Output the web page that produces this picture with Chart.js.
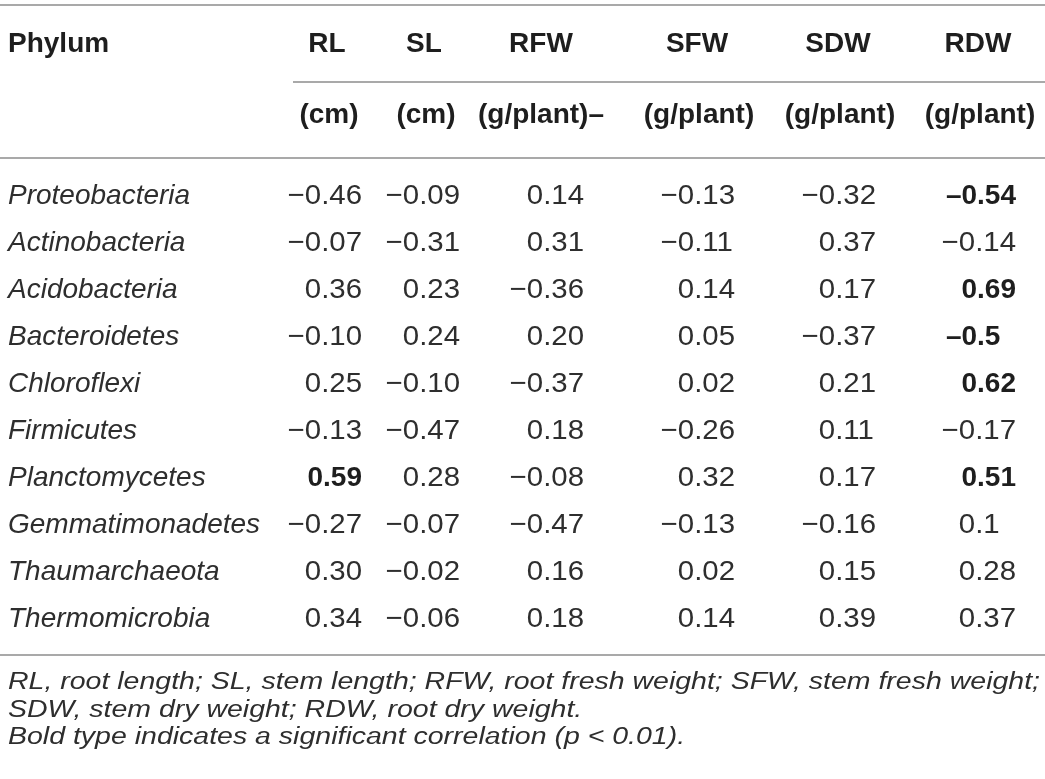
<!DOCTYPE html>
<html>
<head>
<meta charset="utf-8">
<title>Phylum vs. plant growth correlation table</title>
<script src="https://cdn.jsdelivr.net/npm/chart.js@4.4.0/dist/chart.umd.min.js"></script>
<style>
  html, body { margin: 0; padding: 0; background: #fff; }
  #wrap { width: 1045px; height: 779px; position: relative; }
</style>
</head>
<body>
<div id="wrap"><canvas id="table"></canvas></div>
<script>
// ---- table content ----
const phyla = [
  'Proteobacteria', 'Actinobacteria', 'Acidobacteria', 'Bacteroidetes', 'Chloroflexi',
  'Firmicutes', 'Planctomycetes', 'Gemmatimonadetes', 'Thaumarchaeota', 'Thermomicrobia'
];
const columns = ['RL', 'SL', 'RFW', 'SFW', 'SDW', 'RDW'];
const units = ['(cm)', '(cm)', '(g/plant)–', '(g/plant)', '(g/plant)', '(g/plant)'];

// values as printed (strings keep the printed number of decimals)
const rl  = ['-0.46', '-0.07', '0.36', '-0.10', '0.25', '-0.13', '0.59', '-0.27', '0.30', '0.34'];
const sl  = ['-0.09', '-0.31', '0.23', '0.24', '-0.10', '-0.47', '0.28', '-0.07', '-0.02', '-0.06'];
const rfw = ['0.14', '0.31', '-0.36', '0.20', '-0.37', '0.18', '-0.08', '-0.47', '0.16', '0.18'];
const sfw = ['-0.13', '-0.11', '0.14', '0.05', '0.02', '-0.26', '0.32', '-0.13', '0.02', '0.14'];
const sdw = ['-0.32', '0.37', '0.17', '-0.37', '0.21', '0.11', '0.17', '-0.16', '0.15', '0.39'];
const rdw = ['-0.54', '-0.14', '0.69', '-0.5', '0.62', '-0.17', '0.51', '0.1', '0.28', '0.37'];

// rows printed in bold (significant, p < 0.01)
const rlSignificant = [6];
const rdwSignificant = [0, 2, 3, 4, 6];

const footnotes = [
  'RL, root length; SL, stem length; RFW, root fresh weight; SFW, stem fresh weight;',
  'SDW, stem dry weight; RDW, root dry weight.',
  'Bold type indicates a significant correlation (p < 0.01).'
];

// ---- layout (pixels) ----
const W = 1045;
const H = 779;
const COL_RIGHT = [362, 460, 584, 735, 876, 1016];   // right edge of a two-decimal value
const COL_CENTER = [327, 424, 541, 697, 838, 978];   // header centres
const ROW_TOP = 170;                                  // top of first body row
const ROW_H = 47.1;
const FONT = '"Liberation Sans", Arial, Helvetica, sans-serif';
const SX = 1.05;                                      // slight widening for the numbers

const columnValues = [rl, sl, rfw, sfw, sdw, rdw];
const columnBold = [rlSignificant, [], [], [], [], rdwSignificant];

const datasets = columns.map((name, c) => ({
  label: name,
  data: columnValues[c].map((v, r) => ({
    x: COL_RIGHT[c],
    y: r,
    text: v,
    bold: columnBold[c].includes(r)
  })),
  pointRadius: 0,
  pointHoverRadius: 0,
  showLine: false
}));

function drawText(ctx, str, x, y, align, sx) {
  ctx.save();
  ctx.translate(x, y);
  ctx.scale(sx, 1);
  ctx.textAlign = align;
  ctx.fillText(str, 0, 0);
  ctx.restore();
}

function hLine(ctx, x1, x2, y) {
  ctx.beginPath();
  ctx.moveTo(x1, y);
  ctx.lineTo(x2, y);
  ctx.stroke();
}

const tablePlugin = {
  id: 'tableText',
  beforeDraw(chart) {
    const ctx = chart.ctx;
    ctx.save();
    ctx.fillStyle = '#fff';
    ctx.fillRect(0, 0, chart.width, chart.height);
    ctx.restore();
  },
  afterDatasetsDraw(chart) {
    const ctx = chart.ctx;
    const yScale = chart.scales.y;
    ctx.save();
    ctx.textBaseline = 'alphabetic';

    // rules
    ctx.strokeStyle = '#8c8c8c';
    ctx.lineWidth = 1.5;
    hLine(ctx, 0, W, 5);
    hLine(ctx, 293, W, 82);
    hLine(ctx, 0, W, 158);
    hLine(ctx, 0, W, 655);

    // header
    ctx.fillStyle = '#1e1e1e';
    ctx.font = 'bold 28px ' + FONT;
    drawText(ctx, 'Phylum', 8, 52, 'left', 1);
    columns.forEach((name, c) => drawText(ctx, name, COL_CENTER[c], 52, 'center', 1));
    units.forEach((u, c) => drawText(ctx, u, COL_CENTER[c] + (c === 2 ? 0 : 2), 123, 'center', 1));

    // row labels
    ctx.fillStyle = '#2e2e2e';
    ctx.font = 'italic 28px ' + FONT;
    phyla.forEach((p, r) => drawText(ctx, p, 8, yScale.getPixelForValue(r) + 10, 'left', 1));

    // cells, decimal aligned
    chart.data.datasets.forEach((ds, i) => {
      const meta = chart.getDatasetMeta(i);
      meta.data.forEach((pt, j) => {
        const cell = ds.data[j];
        ctx.font = (cell.bold ? 'bold ' : '') + '28px ' + FONT;
        ctx.fillStyle = cell.bold ? '#1e1e1e' : '#2e2e2e';
        const sx = cell.bold ? 1 : SX;
        const minus = cell.bold ? '–' : '−';
        const str = cell.text.replace('-', minus);
        const dot = str.indexOf('.');
        const head = str.slice(0, dot + 1);
        const tail = str.slice(dot + 1);
        const anchor = pt.x - ctx.measureText('00').width * sx;
        const y = pt.y + 10;
        drawText(ctx, head, anchor, y, 'right', sx);
        drawText(ctx, tail, anchor, y, 'left', sx);
      });
    });

    // footnotes, condensed to the printed width
    ctx.fillStyle = '#2e2e2e';
    ctx.font = 'italic 23px ' + FONT;
    const fsx = 1032 / ctx.measureText(footnotes[0]).width;
    footnotes.forEach((f, k) => drawText(ctx, f, 8, 689 + k * 27.5, 'left', fsx));

    ctx.restore();
  }
};

new Chart(document.getElementById('table'), {
  type: 'scatter',
  data: { datasets },
  options: {
    responsive: true,
    maintainAspectRatio: false,
    animation: false,
    events: [],
    layout: {
      padding: { left: 0, right: 0, top: ROW_TOP, bottom: H - ROW_TOP - ROW_H * 10 }
    },
    scales: {
      x: { type: 'linear', min: 0, max: W, display: false },
      y: { type: 'linear', min: -0.5, max: 9.5, reverse: true, display: false }
    },
    plugins: {
      legend: { display: false },
      tooltip: { enabled: false }
    }
  },
  plugins: [tablePlugin]
});
</script>
</body>
</html>
